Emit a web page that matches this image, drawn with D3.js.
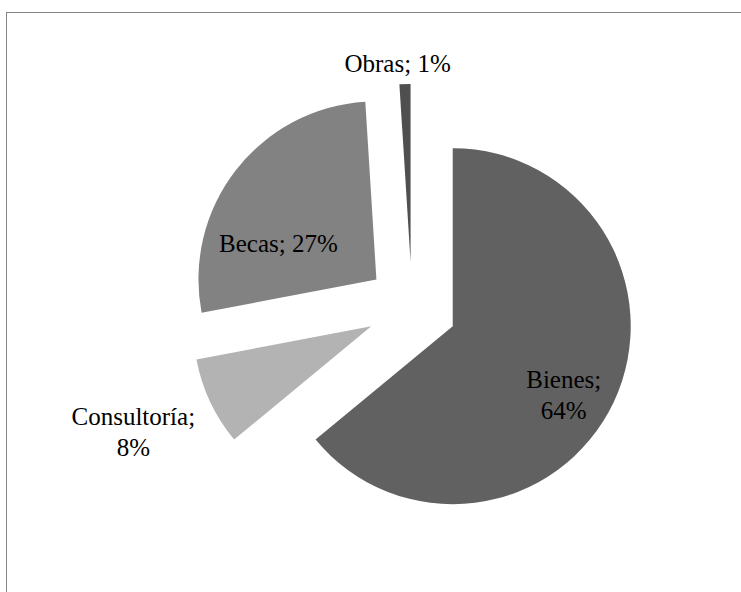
<!DOCTYPE html>
<html>
<head>
<meta charset="utf-8">
<script src="https://cdn.jsdelivr.net/npm/d3@7"></script>
<style>
  html, body { margin: 0; padding: 0; background: #fff; }
  svg { display: block; }
</style>
</head>
<body>
<svg id="chart" width="741" height="592"></svg>
<script>
// Share of spending by category (percent)
const categories = ["Bienes", "Consultoría", "Becas", "Obras"];
const shares = [64, 8, 27, 1];
const sliceColors = ["#616161", "#b3b3b3", "#828282", "#4f4f4f"];

// Layout
const W = 741, H = 592;
const cx = 412, cy = 307, radius = 178, explode = 45;
const fontSize = 25, lineGap = 31;
const fontStack = '"Liberation Serif", "Times New Roman", serif';

// Label placement relative to each slice's (exploded) apex
const labelLayout = {
  "Bienes":      { dx: 111, dy: 62,  lines: d => [d.name + ";", d.value + "%"] },
  "Consultoría": { dx: -238, dy: 99, lines: d => [d.name + ";", d.value + "%"] },
  "Becas":       { dx: -98, dy: -27, lines: d => [d.name + "; " + d.value + "%"] },
  "Obras":       { dx: -13, dy: -190, lines: d => [d.name + "; " + d.value + "%"] }
};

const svg = d3.select("#chart");

// Chart frame
svg.append("rect")
  .attr("x", 6.5).attr("y", 12.5)
  .attr("width", W + 20).attr("height", H + 20)
  .attr("fill", "none")
  .attr("stroke", "#858585")
  .attr("stroke-width", 1);

const data = categories.map((c, i) => ({ name: c, value: shares[i], color: sliceColors[i] }));

const pie = d3.pie().sort(null).value(d => d.value).startAngle(0).endAngle(2 * Math.PI);
const arc = d3.arc().innerRadius(0).outerRadius(radius);

const arcs = pie(data).map(a => {
  const mid = (a.startAngle + a.endAngle) / 2;
  a.ox = Math.sin(mid) * explode;
  a.oy = -Math.cos(mid) * explode;
  return a;
});

const g = svg.append("g").attr("transform", `translate(${cx},${cy})`);

g.selectAll("path.slice")
  .data(arcs)
  .join("path")
  .attr("class", "slice")
  .attr("transform", d => `translate(${d.ox},${d.oy})`)
  .attr("d", arc)
  .attr("fill", d => d.data.color);

const labels = g.selectAll("text.label")
  .data(arcs)
  .join("text")
  .attr("class", "label")
  .attr("text-anchor", "middle")
  .style("font-family", fontStack)
  .style("font-size", fontSize + "px")
  .attr("fill", "#000")
  .attr("x", d => d.ox + labelLayout[d.data.name].dx)
  .attr("y", d => d.oy + labelLayout[d.data.name].dy);

labels.each(function(d) {
  const L = labelLayout[d.data.name];
  const t = d3.select(this);
  L.lines(d.data).forEach((ln, i) => {
    t.append("tspan")
      .attr("x", d.ox + L.dx)
      .attr("dy", i === 0 ? 0 : lineGap)
      .text(ln);
  });
});
</script>
</body>
</html>
